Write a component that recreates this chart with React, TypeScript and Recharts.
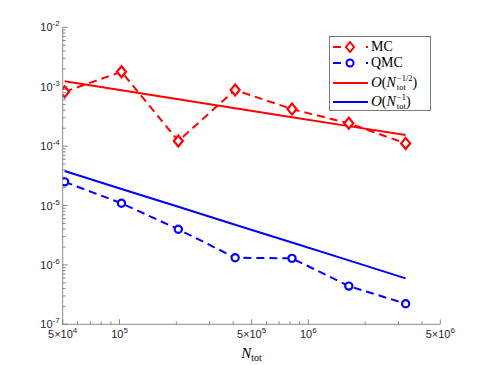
import React from 'react';
import { LineChart, Line, XAxis, YAxis, Legend } from 'recharts';

// ---- data ----
const nTot = [51200, 102400, 204800, 409600, 819200, 1638400, 3276800];
const mcErr = [8.2e-4, 1.79e-3, 1.22e-4, 8.8e-4, 4.2e-4, 2.42e-4, 1.11e-4];
const qmcErr = [2.5e-5, 1.09e-5, 3.98e-6, 1.32e-6, 1.29e-6, 4.4e-7, 2.22e-7];
const rateHalf = [1.23e-3, 8.7e-4, 6.15e-4, 4.35e-4, 3.07e-4, 2.17e-4, 1.54e-4];
const rateOne = [3.8e-5, 1.9e-5, 9.5e-6, 4.75e-6, 2.38e-6, 1.19e-6, 5.94e-7];

// ---- tick labels ----
const xMajorTicks = [5e4, 1e5, 5e5, 1e6, 5e6];
const xMajorMantissa = ['5×10', '10', '5×10', '10', '5×10'];
const xMajorExp = ['4', '5', '5', '6', '6'];
const xMinorTicks = [6e4, 7e4, 8e4, 9e4, 2e5, 3e5, 4e5, 6e5, 7e5, 8e5, 9e5, 2e6, 3e6, 4e6];
const yMajorTicks = [1e-7, 1e-6, 1e-5, 1e-4, 1e-3, 1e-2];
const yMajorExp = ['-7', '-6', '-5', '-4', '-3', '-2'];
const yMinorMultipliers = [2, 3, 4, 5, 6, 7, 8, 9];

const yMinorTicks = yMajorTicks.slice(0, -1).flatMap((d) => yMinorMultipliers.map((m) => m * d));

const data = nTot.map((n, i) => ({
  n,
  mc: mcErr[i],
  qmc: qmcErr[i],
  half: rateHalf[i],
  one: rateOne[i],
}));

const RED = '#ff0000';
const BLUE = '#0000ff';
const AXIS = '#6e6e6e';
const TEXT = '#262626';
const TICK_MARGIN = 3;
const SANS = '"Liberation Sans", Arial, Helvetica, sans-serif';
const SERIF = '"Liberation Serif", "DejaVu Serif", serif';

const YTick = (props: any) => {
  const { x, y, payload } = props;
  const ax = x + TICK_MARGIN;
  const i = yMajorTicks.indexOf(payload.value);
  const major = i >= 0;
  return (
    <g>
      <line x1={ax} x2={ax + (major ? 5 : 3)} y1={y} y2={y} stroke={AXIS} strokeWidth={0.8} />
      {major && (
        <text x={ax - 3} y={y + 4} textAnchor="end" fontSize={11} fill={TEXT} fontFamily={SANS}>
          10
          <tspan dy={-5} fontSize={8}>
            {yMajorExp[i]}
          </tspan>
        </text>
      )}
    </g>
  );
};

const XTick = (props: any) => {
  const { x, y, payload } = props;
  const ay = y - TICK_MARGIN;
  const i = xMajorTicks.indexOf(payload.value);
  const major = i >= 0;
  return (
    <g>
      <line x1={x} x2={x} y1={ay} y2={ay - (major ? 5 : 3)} stroke={AXIS} strokeWidth={0.8} />
      {major && (
        <text x={x} y={ay + 14} textAnchor="middle" fontSize={11} fill={TEXT} fontFamily={SANS}>
          {xMajorMantissa[i]}
          <tspan dy={-5} fontSize={8}>
            {xMajorExp[i]}
          </tspan>
        </text>
      )}
    </g>
  );
};

const DiamondDot = (props: any) => {
  const { cx, cy } = props;
  if (cx == null || cy == null) return null;
  return (
    <polygon
      points={`${cx},${cy - 5.5} ${cx + 4.5},${cy} ${cx},${cy + 5.5} ${cx - 4.5},${cy}`}
      fill="#fff"
      stroke={RED}
      strokeWidth={2.2}
    />
  );
};

const CircleDot = (props: any) => {
  const { cx, cy } = props;
  if (cx == null || cy == null) return null;
  return <circle cx={cx} cy={cy} r={3.6} fill="#fff" stroke={BLUE} strokeWidth={2.2} />;
};

const XTitle = (props: any) => {
  const vb = props.viewBox || {};
  const cx = vb.x + vb.width / 2;
  return (
    <text x={cx} y={vb.y + 34} textAnchor="middle" fontFamily={SERIF} fill="#000">
      <tspan fontSize={15} fontStyle="italic">N</tspan>
      <tspan fontSize={10} dy={3}>tot</tspan>
    </text>
  );
};

const Scripts = ({ sup, sub }: { sup: string; sub: string }) => (
  <span
    style={{
      display: 'inline-flex',
      flexDirection: 'column',
      fontSize: 8.5,
      lineHeight: '9px',
      verticalAlign: 'middle',
      marginLeft: 1,
    }}
  >
    <span>{sup}</span>
    <span>{sub}</span>
  </span>
);

const Sample = ({ color, kind }: { color: string; kind: 'diamond' | 'circle' | 'solid' }) => (
  <svg width={36} height={12} style={{ display: 'block' }}>
    {kind === 'solid' ? (
      <line x1={0} x2={35} y1={6} y2={6} stroke={color} strokeWidth={2} />
    ) : (
      <g>
        <line x1={0} x2={8} y1={6} y2={6} stroke={color} strokeWidth={2} />
        <line x1={33} x2={35} y1={6} y2={6} stroke={color} strokeWidth={2} />
        {kind === 'diamond' ? (
          <polygon points="17,1 21,6 17,11 13,6" fill="#fff" stroke={color} strokeWidth={2} />
        ) : (
          <circle cx={17} cy={6} r={3.5} fill="#fff" stroke={color} strokeWidth={2} />
        )}
      </g>
    )}
  </svg>
);

const rowStyle = (top: number): React.CSSProperties => ({
  position: 'absolute',
  left: 3,
  top,
  height: 16,
  display: 'flex',
  alignItems: 'center',
  whiteSpace: 'nowrap',
});

const LegendBox = () => (
  <div
    style={{
      position: 'relative',
      width: 102,
      height: 75,
      boxSizing: 'border-box',
      border: '1px solid #7a7a7a',
      background: '#fff',
      fontFamily: SERIF,
      fontSize: 14,
      color: '#000',
    }}
  >
    <div style={rowStyle(2)}>
      <Sample color={RED} kind="diamond" />
      <span style={{ marginLeft: 2 }}>MC</span>
    </div>
    <div style={rowStyle(18)}>
      <Sample color={BLUE} kind="circle" />
      <span style={{ marginLeft: 2 }}>QMC</span>
    </div>
    <div style={{ ...rowStyle(37), height: 18 }}>
      <Sample color={RED} kind="solid" />
      <span style={{ marginLeft: 2 }}>
        <span style={{ fontStyle: 'italic', fontSize: 15 }}>O</span>(<span style={{ fontStyle: 'italic' }}>N</span>
        <Scripts sup="−1/2" sub="tot" />)
      </span>
    </div>
    <div style={{ ...rowStyle(56), height: 18 }}>
      <Sample color={BLUE} kind="solid" />
      <span style={{ marginLeft: 2 }}>
        <span style={{ fontStyle: 'italic', fontSize: 15 }}>O</span>(<span style={{ fontStyle: 'italic' }}>N</span>
        <Scripts sup="−1" sub="tot" />)
      </span>
    </div>
  </div>
);

export default function App() {
  return (
    <div style={{ position: 'absolute', left: 0, top: 0, width: 486, height: 365, background: '#fff' }}>
      <LineChart
        width={486}
        height={365}
        data={data}
        margin={{ top: 27.3, right: 45.7, bottom: 0.7, left: 0 }}
      >
        <XAxis
          dataKey="n"
          type="number"
          scale="log"
          domain={[5e4, 5e6]}
          allowDataOverflow
          ticks={[...xMajorTicks, ...xMinorTicks]}
          interval={0}
          tickSize={0}
          tickMargin={TICK_MARGIN}
          tick={<XTick />}
          axisLine={{ stroke: AXIS, strokeWidth: 0.8 }}
          height={40}
          label={(p: any) => <XTitle {...p} />}
        />
        <YAxis
          type="number"
          scale="log"
          domain={[1e-7, 1e-2]}
          allowDataOverflow
          ticks={[...yMajorTicks, ...yMinorTicks]}
          interval={0}
          tickSize={0}
          tickMargin={TICK_MARGIN}
          tick={<YTick />}
          axisLine={{ stroke: AXIS, strokeWidth: 0.8 }}
          width={62.7}
        />
        <Line
          dataKey="half"
          stroke={RED}
          strokeWidth={2}
          dot={false}
          isAnimationActive={false}
          legendType="none"
        />
        <Line
          dataKey="one"
          stroke={BLUE}
          strokeWidth={2}
          dot={false}
          isAnimationActive={false}
          legendType="none"
        />
        <Line
          dataKey="mc"
          stroke={RED}
          strokeWidth={2}
          strokeDasharray="8 5"
          dot={<DiamondDot />}
          isAnimationActive={false}
        />
        <Line
          dataKey="qmc"
          stroke={BLUE}
          strokeWidth={2}
          strokeDasharray="8 5"
          dot={<CircleDot />}
          isAnimationActive={false}
        />
        <Legend
          layout="vertical"
          align="center"
          verticalAlign="middle"
          wrapperStyle={{ left: 329, top: 36, width: 102, height: 75 }}
          content={() => <LegendBox />}
        />
      </LineChart>
    </div>
  );
}
